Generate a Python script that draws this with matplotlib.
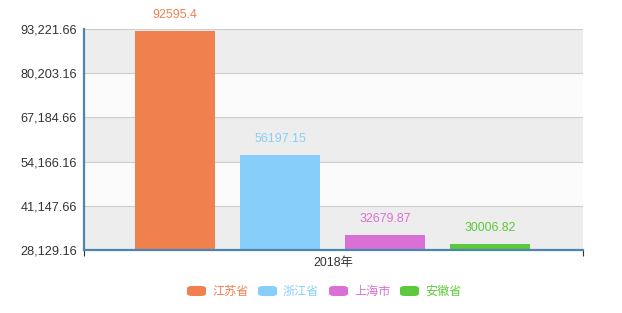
import matplotlib.pyplot as plt
from matplotlib.patches import FancyBboxPatch

plt.rcParams['font.family'] = ['Liberation Sans', 'Noto Sans CJK SC', 'DejaVu Sans']

provinces = ['江苏省', '浙江省', '上海市', '安徽省']
values = [92595.4, 56197.15, 32679.87, 30006.82]
colors = ['#f0804e', '#87cefa', '#da70d6', '#5ec83c']
value_labels = ['92595.4', '56197.15', '32679.87', '30006.82']
category = '2018年'
y_ticks = [28129.16, 41147.66, 54166.16, 67184.66, 80203.16, 93221.66]

fig = plt.figure(figsize=(6.22, 3.13), dpi=100)
ax = fig.add_axes([84 / 622, 1 - 250 / 313, 499 / 622, 221 / 313])

ymin, ymax = y_ticks[0], y_ticks[-1]
# alternating background bands
for i in range(len(y_ticks) - 1):
    c = '#eeeded' if i % 2 == 0 else '#fbfbfb'
    ax.axhspan(y_ticks[i], y_ticks[i + 1], color=c, zorder=0, lw=0)
for t in y_ticks[1:]:
    ax.axhline(t, color='#cccccc', lw=0.8, zorder=1)

xs = list(range(len(values)))
ax.bar(xs, [v - ymin for v in values], bottom=ymin, width=80 / 105,
       color=colors, zorder=2)
for x, v, lab, c in zip(xs, values, value_labels, colors):
    ax.annotate(lab, (x, v), xytext=(0, 7), textcoords='offset points',
                ha='center', va='bottom', color=c, fontsize=8.9)

ax.set_xlim(-91 / 105, 408 / 105)
ax.set_ylim(ymin, ymax)
ax.set_yticks(y_ticks)
ax.set_yticklabels(['{:,.2f}'.format(t) for t in y_ticks])
ax.tick_params(axis='y', length=0, pad=5, labelsize=9.2, labelcolor='#333333')
ax.set_xticks([-91 / 105, 408 / 105])
ax.set_xticklabels([])
ax.tick_params(axis='x', length=4, color='#333333', width=0.8)
ax.text(0.5, -0.03, category, transform=ax.transAxes, ha='center', va='top',
        fontsize=8.9, color='#333333')

for s in ['top', 'right']:
    ax.spines[s].set_visible(False)
for s in ['left', 'bottom']:
    ax.spines[s].set_color('#4a87b0')
    ax.spines[s].set_linewidth(1.6)
    ax.spines[s].set_zorder(3)

# legend
lx = [187, 258, 329, 400]
for x0, name, c in zip(lx, provinces, colors):
    fig.patches.append(FancyBboxPatch((x0 / 622, 1 - 296 / 313), 19 / 622, 10 / 313,
                                      boxstyle='round,pad=0,rounding_size=0.008',
                                      transform=fig.transFigure, color=c, lw=0))
    fig.text((x0 + 25) / 622, 1 - 291 / 313, name, color=c, fontsize=8.7,
             va='center', ha='left', family=['Noto Sans CJK SC', 'DejaVu Sans'])

fig.savefig('out.png', dpi=100)
